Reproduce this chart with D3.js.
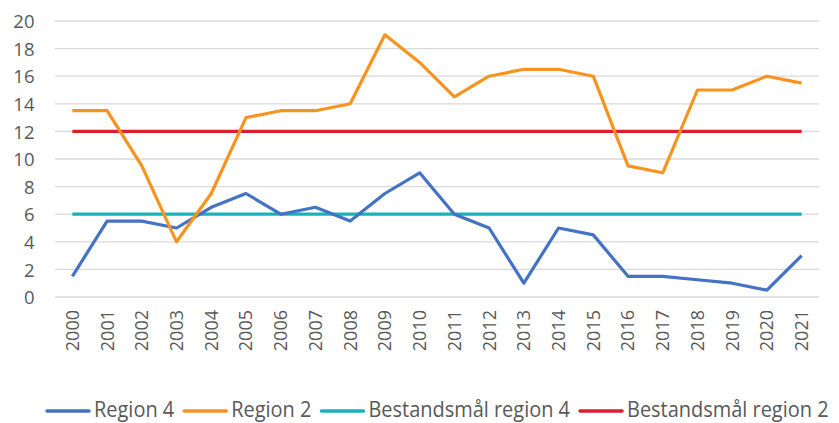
<!DOCTYPE html>
<html><head><meta charset="utf-8">
<script src="https://cdn.jsdelivr.net/npm/d3@7"></script>
<style>body{margin:0;background:#fff}svg{display:block}text{font-family:"Open Sans",sans-serif;fill:#595959}</style>
</head><body><svg id="c" width="839" height="423"></svg>
<script>
const years = ["2000","2001","2002","2003","2004","2005","2006","2007","2008","2009","2010","2011","2012","2013","2014","2015","2016","2017","2018","2019","2020","2021"];
const region4 = [1.5,5.5,5.5,5,6.5,7.5,6,6.5,5.5,7.5,9,6,5,1,5,4.5,1.5,1.5,1.25,1,0.5,3];
const region2 = [13.5,13.5,9.5,4,7.5,13,13.5,13.5,14,19,17,14.5,16,16.5,16.5,16,9.5,9,15,15,16,15.5];
const target4 = years.map(() => 6);
const target2 = years.map(() => 12);
const yTicks = [0,2,4,6,8,10,12,14,16,18,20];
const seriesNames = ["Region 4","Region 2","Bestandsmål region 4","Bestandsmål region 2"];
const seriesColors = ["#4472C4","#F7931E","#17B2BA","#DA1F33"];
const seriesData = [region4, region2, target4, target2];

const svg = d3.select("#c");
const x = d3.scaleBand().domain(years).range([55, 819]);
const y = d3.scaleLinear().domain([0, 20]).range([297, 21]);
const cx = d => x(d) + x.bandwidth()/2;

// gridlines
svg.append("g").selectAll("line").data(yTicks).join("line")
  .attr("x1", 55).attr("x2", 819)
  .attr("y1", d => y(d)).attr("y2", d => y(d))
  .attr("stroke", "#d9d9d9").attr("stroke-width", 1.3);

// y axis
const ya = svg.append("g").attr("transform", "translate(34.5,0)")
  .call(d3.axisLeft(y).tickValues(yTicks).tickSize(0).tickPadding(0));
ya.select(".domain").remove();
ya.selectAll("text").style("font-size", "18.5px").style("font-family", "'Open Sans',sans-serif").attr("fill", "#595959").attr("dy", "0.36em");

// x axis
const xa = svg.append("g").attr("transform", "translate(0,310)")
  .call(d3.axisBottom(x).tickSize(0).tickPadding(0));
xa.select(".domain").remove();
xa.selectAll("text").style("font-size", "18px").style("font-family", "'Open Sans',sans-serif").attr("fill", "#595959")
  .attr("text-anchor", "end").attr("transform", "rotate(-90)")
  .attr("x", 0).attr("y", 0).attr("dy", "0.36em");

// lines
const line = d3.line().x((d,i) => cx(years[i])).y(d => y(d));
[2,3,0,1].forEach(k => {
  svg.append("path").datum(seriesData[k])
    .attr("fill", "none").attr("stroke", seriesColors[k])
    .attr("stroke-width", 3.2).attr("stroke-linejoin", "round")
    .attr("d", line);
});

// legend
const lg = svg.append("g");
let lx = 47;
seriesNames.forEach((name, i) => {
  lg.append("line").attr("x1", lx).attr("x2", lx + 42).attr("y1", 411).attr("y2", 411)
    .attr("stroke", seriesColors[i]).attr("stroke-width", 3.5).attr("stroke-linecap", "round");
  const t = lg.append("text").attr("x", lx + 47).attr("y", 417)
    .style("font-size", "21px").style("font-family", "'Open Sans',sans-serif").attr("fill", "#595959").text(name);
  const natural = t.node().getComputedTextLength();
  const w = natural * 0.95;
  t.attr("textLength", w).attr("lengthAdjust", "spacingAndGlyphs");
  lx += 47 + w + 10;
});
</script></body></html>
